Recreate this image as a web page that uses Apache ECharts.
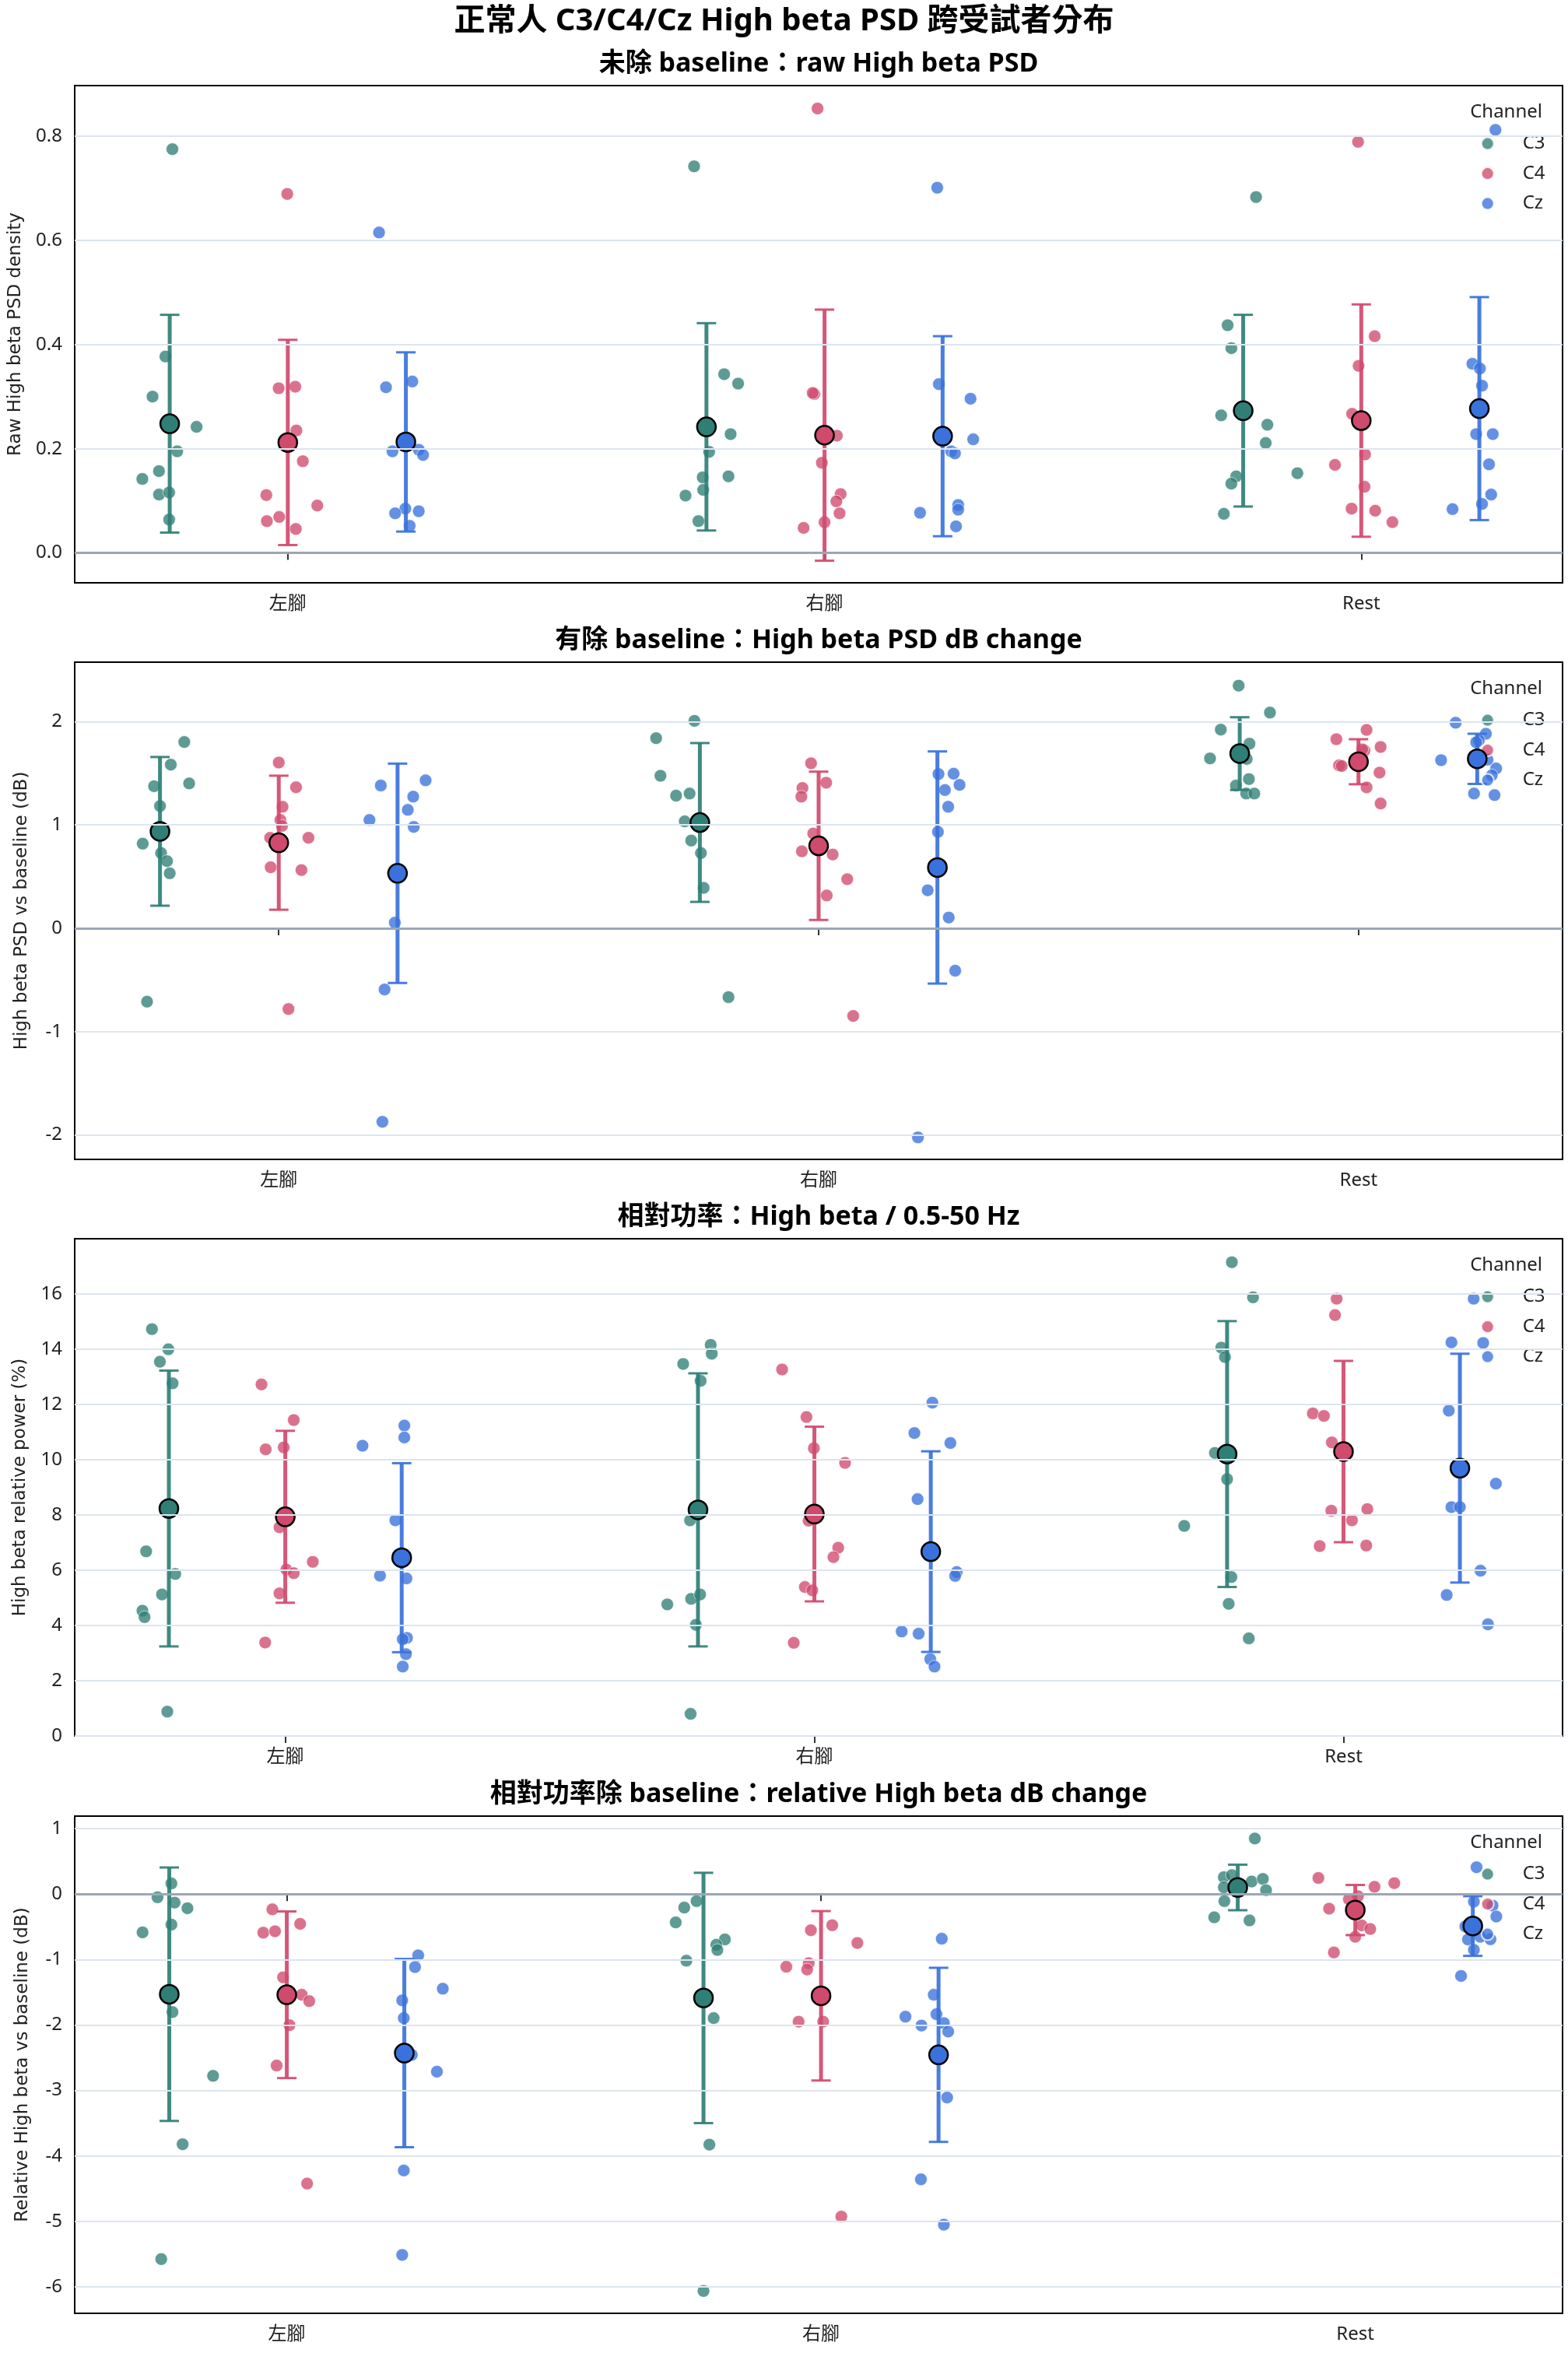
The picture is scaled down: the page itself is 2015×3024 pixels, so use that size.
<!DOCTYPE html>
<html>
<head>
<meta charset="utf-8">
<script src="https://cdn.jsdelivr.net/npm/echarts@6.0.0/dist/echarts.min.js"></script>
<style>
  html, body { margin: 0; padding: 0; background: #fff; }
  #chart { width: 2015px; height: 3024px; }
</style>
</head>
<body>
<div id="chart"></div>
<script>
// ---------------- DATA ----------------
const categories = ['左腳', '右腳', 'Rest'];
const channels = ['C3', 'C4', 'Cz'];
const dodge = [-0.22, 0, 0.22];

// Panel 1: raw High beta PSD (per category: 左腳, 右腳, Rest; 10 subjects each)
const rawC3 = [
  [0.775, 0.377, 0.300, 0.242, 0.195, 0.157, 0.142, 0.112, 0.116, 0.064],
  [0.742, 0.343, 0.325, 0.228, 0.194, 0.145, 0.147, 0.121, 0.110, 0.061],
  [0.683, 0.437, 0.393, 0.264, 0.246, 0.211, 0.153, 0.147, 0.133, 0.075]];
const rawC3Jit = [
  [0.005, -0.008, -0.032, 0.050, 0.014, -0.020, -0.051, -0.020, -0.001, -0.001],
  [-0.023, 0.033, 0.059, 0.045, 0.005, -0.007, 0.041, -0.006, -0.039, -0.015],
  [0.024, -0.029, -0.022, -0.041, 0.045, 0.042, 0.101, -0.013, -0.022, -0.036]];
const rawC4 = [
  [0.689, 0.316, 0.319, 0.235, 0.176, 0.111, 0.091, 0.061, 0.069, 0.046],
  [0.853, 0.305, 0.307, 0.225, 0.173, 0.113, 0.099, 0.076, 0.059, 0.048],
  [0.789, 0.416, 0.359, 0.267, 0.189, 0.169, 0.127, 0.085, 0.081, 0.059]];
const rawC4Jit = [
  [-0.001, -0.017, 0.014, 0.016, 0.028, -0.040, 0.055, -0.039, -0.016, 0.015],
  [-0.013, -0.019, -0.022, 0.023, -0.005, 0.030, 0.022, 0.028, 0.000, -0.039],
  [-0.006, 0.025, -0.005, -0.017, 0.007, -0.049, 0.006, -0.018, 0.026, 0.058]];
const rawCz = [
  [0.615, 0.318, 0.329, 0.195, 0.198, 0.188, 0.085, 0.076, 0.080, 0.052],
  [0.701, 0.324, 0.296, 0.218, 0.195, 0.191, 0.077, 0.092, 0.083, 0.051],
  [0.812, 0.363, 0.354, 0.321, 0.228, 0.228, 0.170, 0.112, 0.094, 0.084]];
const rawCzJit = [
  [-0.050, -0.037, 0.012, -0.025, 0.024, 0.032, -0.001, -0.020, 0.024, 0.007],
  [-0.010, -0.007, 0.052, 0.057, 0.016, 0.023, -0.042, 0.029, 0.029, 0.025],
  [0.030, -0.013, 0.001, 0.005, -0.006, 0.025, 0.018, 0.022, 0.005, -0.050]];
const rawMean = [[0.248, 0.242, 0.273], [0.212, 0.226, 0.254], [0.213, 0.224, 0.277]];
const rawSd   = [[0.209, 0.199, 0.184], [0.197, 0.241, 0.223], [0.172, 0.192, 0.214]];
const rawTicks = [0, 0.2, 0.4, 0.6, 0.8];

// Panel 2: High beta PSD dB change
const dbC3 = [
  [1.803, 1.584, 1.375, 1.402, 1.183, 0.819, 0.728, 0.650, 0.532, -0.711],
  [2.008, 1.840, 1.476, 1.284, 1.304, 1.035, 0.849, 0.728, 0.391, -0.667],
  [2.349, 2.088, 1.923, 1.787, 1.644, 1.639, 1.444, 1.381, 1.304, 1.304]];
const dbC3Jit = [
  [0.045, 0.020, -0.011, 0.054, 0.000, -0.032, 0.002, 0.013, 0.018, -0.024],
  [-0.010, -0.081, -0.073, -0.044, -0.019, -0.028, -0.016, 0.002, 0.007, 0.053],
  [-0.002, 0.056, -0.035, 0.018, -0.055, 0.013, 0.017, -0.007, 0.012, 0.027]];
const dbC4 = [
  [1.604, 1.365, 1.176, 1.048, 0.991, 0.876, 0.876, 0.590, 0.563, -0.782],
  [1.597, 1.409, 1.358, 1.274, 0.917, 0.745, 0.714, 0.475, 0.317, -0.849],
  [1.920, 1.830, 1.755, 1.720, 1.732, 1.577, 1.571, 1.507, 1.364, 1.208]];
const dbC4Jit = [
  [0.000, 0.032, 0.007, 0.003, 0.006, -0.016, 0.055, -0.015, 0.042, 0.018],
  [-0.014, 0.014, -0.030, -0.032, -0.010, -0.031, 0.026, 0.053, 0.015, 0.064],
  [0.015, -0.041, 0.041, 0.011, 0.007, -0.036, -0.031, 0.039, 0.015, 0.041]];
const dbCz = [
  [1.432, 1.382, 1.274, 1.146, 1.048, 0.981, 0.054, -0.593, -1.874, 0.500],
  [1.493, 1.496, 1.388, 1.338, 1.176, 0.933, 0.367, 0.104, -0.411, -2.025],
  [1.990, 1.883, 1.820, 1.800, 1.627, 1.632, 1.547, 1.481, 1.304, 1.289]];
const dbCzJit = [
  [0.052, -0.031, 0.029, 0.019, -0.052, 0.030, -0.005, -0.024, -0.028, 0.002],
  [0.002, 0.030, 0.041, 0.014, 0.020, 0.001, -0.018, 0.021, 0.033, -0.036],
  [-0.040, 0.016, 0.003, -0.002, -0.067, 0.019, 0.035, 0.027, -0.006, 0.032]];
const dbMean = [[0.938, 1.024, 1.691], [0.828, 0.798, 1.612], [0.532, 0.588, 1.640]];
const dbSd   = [[0.720, 0.769, 0.352], [0.649, 0.718, 0.218], [1.062, 1.124, 0.243]];
const dbTicks = [-2, -1, 0, 1, 2];

// Panel 3: relative High beta power (%)
const relC3 = [
  [14.72, 13.99, 13.54, 12.76, 6.68, 5.86, 5.12, 4.53, 4.30, 0.88],
  [14.15, 13.83, 13.46, 12.85, 7.80, 4.76, 4.96, 5.12, 4.02, 0.80],
  [17.14, 15.87, 14.05, 13.71, 10.24, 9.29, 7.60, 5.75, 4.78, 3.53]];
const relC3Jit = [
  [-0.032, -0.001, -0.017, 0.007, -0.043, 0.012, -0.013, -0.050, -0.046, -0.003],
  [0.024, 0.026, -0.028, 0.005, -0.015, -0.058, -0.013, 0.004, -0.004, -0.014],
  [0.009, 0.049, -0.011, -0.004, -0.023, 0.000, -0.081, 0.008, 0.003, 0.041]];
const relC4 = [
  [12.72, 11.43, 10.37, 10.44, 7.55, 6.02, 5.89, 6.30, 5.16, 3.38],
  [13.26, 11.54, 10.41, 9.88, 7.79, 6.81, 6.47, 5.39, 5.27, 3.37],
  [15.82, 15.23, 11.67, 11.58, 10.62, 8.15, 8.21, 7.80, 6.87, 6.89]];
const relC4Jit = [
  [-0.045, 0.016, -0.037, -0.003, -0.011, 0.002, 0.016, 0.052, -0.011, -0.038],
  [-0.061, -0.015, -0.001, 0.058, -0.011, 0.045, 0.036, -0.018, -0.004, -0.039],
  [-0.013, -0.016, -0.058, -0.037, -0.022, -0.023, 0.045, 0.016, -0.045, 0.043]];
const relCz = [
  [11.23, 10.80, 10.50, 7.80, 5.80, 5.70, 3.55, 3.50, 2.96, 2.51],
  [12.06, 10.96, 10.60, 8.57, 5.93, 5.79, 3.78, 3.70, 2.78, 2.51],
  [15.82, 14.24, 14.22, 11.77, 9.13, 8.28, 8.28, 5.98, 5.10, 4.04]];
const relCzJit = [
  [0.005, 0.005, -0.074, -0.012, -0.041, 0.009, 0.010, 0.002, 0.008, 0.002],
  [0.003, -0.031, 0.037, -0.025, 0.049, 0.046, -0.055, -0.023, -0.001, 0.007],
  [0.026, -0.016, 0.044, -0.021, 0.068, -0.016, 0.000, 0.039, -0.025, 0.053]];
const relMean = [[8.23, 8.18, 10.20], [7.93, 8.03, 10.29], [6.45, 6.67, 9.69]];
const relSd   = [[4.99, 4.94, 4.81], [3.11, 3.16, 3.28], [3.42, 3.63, 4.14]];
const relTicks = [0, 2, 4, 6, 8, 10, 12, 14, 16];

// Panel 4: relative High beta dB change
const rdbC3 = [
  [0.162, -0.049, -0.130, -0.217, -0.466, -0.585, -1.803, -2.777, -3.822, -5.577],
  [-0.108, -0.206, -0.433, -0.693, -0.774, -0.855, -1.018, -1.895, -3.828, -6.064],
  [0.848, 0.258, 0.290, 0.191, 0.231, 0.103, 0.060, -0.108, -0.355, -0.403]];
const rdbC3Jit = [
  [0.004, -0.022, 0.010, 0.034, 0.004, -0.050, 0.006, 0.082, 0.025, -0.015],
  [-0.013, -0.036, -0.052, 0.040, 0.024, 0.026, -0.032, 0.019, 0.011, 0.000],
  [0.032, -0.026, -0.011, 0.026, 0.047, -0.026, 0.053, -0.025, -0.044, 0.022]];
const rdbC4 = [
  [-0.233, -0.455, -0.590, -0.568, -1.272, -1.538, -1.635, -2.003, -2.620, -4.423],
  [-0.476, -0.552, -0.747, -1.110, -1.056, -1.153, -1.949, -1.949, -4.927, -1.560],
  [0.246, 0.167, 0.111, -0.032, -0.080, -0.223, -0.478, -0.534, -0.653, -0.892]];
const rdbC4Jit = [
  [-0.027, 0.025, -0.044, -0.022, -0.007, 0.028, 0.042, 0.005, -0.019, 0.038],
  [0.021, -0.019, 0.068, -0.065, -0.023, -0.026, -0.042, 0.004, 0.038, 0.000],
  [-0.069, 0.073, 0.036, 0.005, -0.012, -0.049, 0.012, 0.028, 0.000, -0.040]];
const rdbCz = [
  [-0.937, -1.115, -1.446, -1.624, -1.895, -2.409, -2.458, -2.713, -4.223, -5.512],
  [-0.682, -1.538, -1.873, -1.835, -1.971, -2.009, -2.101, -3.108, -4.358, -5.051],
  [0.410, -0.116, -0.176, -0.343, -0.494, -0.653, -0.693, -0.690, -0.853, -1.251]];
const rdbCzJit = [
  [0.026, 0.020, 0.072, -0.004, -0.001, -0.008, 0.014, 0.061, -0.001, -0.004],
  [0.006, -0.009, -0.062, -0.004, 0.010, -0.032, 0.018, 0.016, -0.033, 0.010],
  [0.007, 0.002, 0.037, 0.044, -0.014, 0.014, -0.009, 0.033, 0.002, -0.022]];
const rdbMean = [[-1.530, -1.587, 0.101], [-1.538, -1.554, -0.244], [-2.429, -2.456, -0.488]];
const rdbSd   = [[1.936, 1.912, 0.348], [1.273, 1.294, 0.383], [1.438, 1.330, 0.456]];
const rdbTicks = [-6, -5, -4, -3, -2, -1, 0, 1];

// ---------------- LAYOUT / STYLE ----------------
const FONT = '"Noto Sans", "Noto Sans CJK TC", sans-serif';
const NAME_FONT = '"DejaVu Sans", "Noto Sans", sans-serif';
const colors = ['#2f7f76', '#d04a6e', '#3a72db'];
const GRID_LEFT = 96, GRID_W = 1912, GRID_H = 639;

const panels = [
  { title: '未除 baseline：raw High beta PSD', yName: 'Raw High beta PSD density',
    pts: [rawC3, rawC4, rawCz], jit: [rawC3Jit, rawC4Jit, rawCzJit], mean: rawMean, sd: rawSd,
    ticks: rawTicks, fmt: v => v.toFixed(1), yMin: -0.0574, yMax: 0.897, xMin: -0.397, xMax: 2.375,
    top: 110, nameGap: 64, zero: true },
  { title: '有除 baseline：High beta PSD dB change', yName: 'High beta PSD vs baseline (dB)',
    pts: [dbC3, dbC4, dbCz], jit: [dbC3Jit, dbC4Jit, dbCzJit], mean: dbMean, sd: dbSd,
    ticks: dbTicks, fmt: v => String(Math.round(v)), yMin: -2.238, yMax: 2.576, xMin: -0.378, xMax: 2.378,
    top: 851, nameGap: 56, zero: true },
  { title: '相對功率：High beta / 0.5-50 Hz', yName: 'High beta relative power (%)',
    pts: [relC3, relC4, relCz], jit: [relC3Jit, relC4Jit, relCzJit], mean: relMean, sd: relSd,
    ticks: relTicks, fmt: v => String(Math.round(v)), yMin: 0, yMax: 17.99, xMin: -0.398, xMax: 2.414,
    top: 1592, nameGap: 58, zero: false },
  { title: '相對功率除 baseline：relative High beta dB change', yName: 'Relative High beta vs baseline (dB)',
    pts: [rdbC3, rdbC4, rdbCz], jit: [rdbC3Jit, rdbC4Jit, rdbCzJit], mean: rdbMean, sd: rdbSd,
    ticks: rdbTicks, fmt: v => String(Math.round(v)), yMin: -6.405, yMax: 1.191, xMin: -0.397, xMax: 2.388,
    top: 2334, nameGap: 55, zero: true }
];

function renderErr(params, api) {
  const x = api.value(0), lo = api.value(1), hi = api.value(2);
  const pLo = api.coord([x, lo]);
  const pHi = api.coord([x, hi]);
  const color = api.visual('color');
  const cap = 12.5;
  return {
    type: 'group',
    children: [
      { type: 'line', shape: { x1: pLo[0], y1: pLo[1], x2: pHi[0], y2: pHi[1] },
        style: { stroke: color, lineWidth: 5, opacity: 0.92 } },
      { type: 'line', shape: { x1: pLo[0] - cap, y1: pLo[1], x2: pLo[0] + cap, y2: pLo[1] },
        style: { stroke: color, lineWidth: 3, opacity: 0.92 } },
      { type: 'line', shape: { x1: pHi[0] - cap, y1: pHi[1], x2: pHi[0] + cap, y2: pHi[1] },
        style: { stroke: color, lineWidth: 3, opacity: 0.92 } }
    ]
  };
}

const grids = [], xAxes = [], yAxes = [], series = [], legends = [], graphics = [];

graphics.push({
  type: 'text', x: 1007.5, y: 28, z: 10,
  style: { text: '正常人 C3/C4/Cz High beta PSD 跨受試者分布', font: 'bold 40px ' + FONT,
           fill: '#000', textAlign: 'center', textVerticalAlign: 'middle', align: 'center', verticalAlign: 'middle' }
});

panels.forEach((p, i) => {
  grids.push({ left: GRID_LEFT, top: p.top, width: GRID_W, height: GRID_H, show: true,
               borderColor: '#000', borderWidth: 2, backgroundColor: 'transparent' });
  xAxes.push({
    type: 'value', gridIndex: i, min: p.xMin, max: p.xMax,
    axisLine: { show: false }, splitLine: { show: false },
    axisTick: { show: true, customValues: [0, 1, 2], length: 9, lineStyle: { color: '#000', width: 1.6 } },
    axisLabel: { show: true, customValues: [0, 1, 2], formatter: v => categories[Math.round(v)],
                 fontSize: 24, color: '#222', margin: 15, fontFamily: FONT }
  });
  yAxes.push({
    type: 'value', gridIndex: i, min: p.yMin, max: p.yMax,
    name: p.yName, nameLocation: 'middle', nameGap: p.nameGap,
    nameTextStyle: { fontSize: 23, color: '#222', fontFamily: NAME_FONT },
    axisLine: { show: false }, splitLine: { show: false },
    axisTick: { show: true, customValues: p.ticks, length: 9, lineStyle: { color: '#000', width: 1.6 } },
    axisLabel: { show: true, customValues: p.ticks, formatter: p.fmt,
                 fontSize: 24, color: '#222', margin: 16, fontFamily: FONT }
  });

  // grid lines and zero line
  const ml = p.ticks.map(v => ({ yAxis: v, lineStyle: { color: '#dde5ee', width: 2, type: 'solid' } }));
  if (p.zero) ml.push({ yAxis: 0, lineStyle: { color: '#9ba7b6', width: 3, type: 'solid' } });
  series.push({
    type: 'scatter', name: 'grid' + i, xAxisIndex: i, yAxisIndex: i, data: [], z: 1, silent: true,
    markLine: { silent: true, symbol: ['none', 'none'], label: { show: false }, animation: false, data: ml }
  });

  channels.forEach((ch, c) => {
    const pts = [];
    p.pts[c].forEach((vals, k) => {
      vals.forEach((v, j) => pts.push([k + dodge[c] + p.jit[c][k][j], v]));
    });
    series.push({
      type: 'scatter', name: ch, xAxisIndex: i, yAxisIndex: i, z: 2, symbol: 'circle', symbolSize: 16,
      itemStyle: { color: colors[c], opacity: 0.78, borderColor: '#fff', borderWidth: 0.8 },
      data: pts
    });
    series.push({
      type: 'custom', name: ch + ' SD', xAxisIndex: i, yAxisIndex: i, z: 3,
      renderItem: renderErr, itemStyle: { color: colors[c] },
      encode: { x: 0, y: [1, 2] },
      data: categories.map((_, k) => [k + dodge[c], p.mean[c][k] - p.sd[c][k], p.mean[c][k] + p.sd[c][k]])
    });
    series.push({
      type: 'scatter', name: ch + ' mean', xAxisIndex: i, yAxisIndex: i, z: 4, symbol: 'circle', symbolSize: 24,
      itemStyle: { color: colors[c], opacity: 1, borderColor: '#000', borderWidth: 2.5 },
      data: categories.map((_, k) => [k + dodge[c], p.mean[c][k]])
    });
  });

  legends.push({
    data: channels, orient: 'vertical', left: 1902.7, top: p.top + 62.6, padding: 0,
    itemWidth: 16, itemHeight: 16, itemGap: 14.5, icon: 'circle', selectedMode: false,
    textStyle: { fontSize: 24, color: '#222', fontFamily: FONT, padding: [0, 0, 0, 32] }
  });

  graphics.push({
    type: 'text', x: 1052, y: p.top - 28, z: 10,
    style: { text: p.title, font: 'bold 34px ' + FONT, fill: '#000',
             textAlign: 'center', textVerticalAlign: 'middle', align: 'center', verticalAlign: 'middle' }
  });
  graphics.push({
    type: 'text', x: 1982, y: p.top + 34, z: 10,
    style: { text: 'Channel', font: '24px ' + FONT, fill: '#222',
             textAlign: 'right', textVerticalAlign: 'middle', align: 'right', verticalAlign: 'middle' }
  });
});

const chart = echarts.init(document.getElementById('chart'), null, { renderer: 'canvas', width: 2015, height: 3024 });
chart.setOption({
  backgroundColor: '#fff',
  animation: false,
  textStyle: { fontFamily: FONT },
  grid: grids,
  xAxis: xAxes,
  yAxis: yAxes,
  legend: legends,
  graphic: graphics,
  series: series
});
</script>
</body>
</html>
